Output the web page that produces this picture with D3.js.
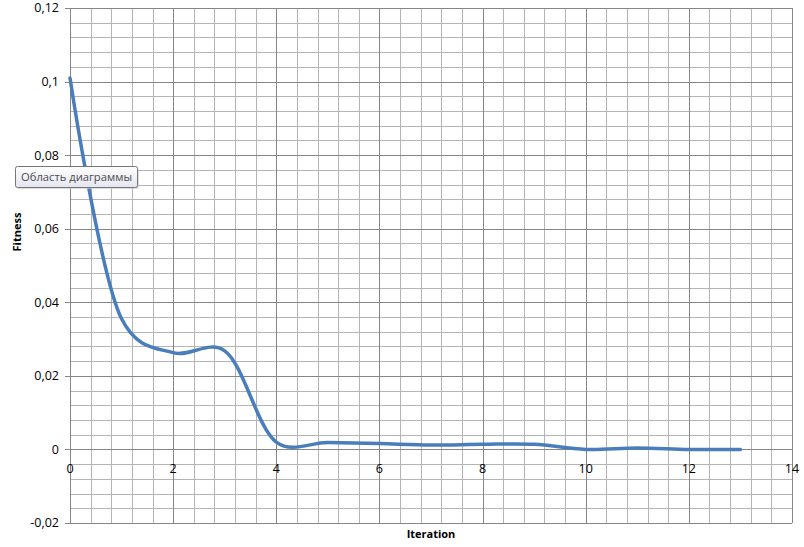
<!DOCTYPE html>
<html>
<head>
<meta charset="utf-8">
<script src="https://cdn.jsdelivr.net/npm/d3@7"></script>
<style>
  body { margin: 0; background: #fff; }
  text { font-family: "Open Sans", "DejaVu Sans", sans-serif; }
</style>
</head>
<body>
<div id="chart"></div>
<script>
// data
var iterations = [0, 1, 2, 3, 4, 5, 6, 7, 8, 9, 10, 11, 12, 13];
var fitness = [0.101, 0.0355, 0.0263, 0.0268, 0.002, 0.0019, 0.0016, 0.0012, 0.0014, 0.0014, 0.0, 0.0004, 0.0, 0.0];
var xTicks = [0, 2, 4, 6, 8, 10, 12, 14];
var yTicks = [-0.02, 0, 0.02, 0.04, 0.06, 0.08, 0.1, 0.12];
var tipText = "Область диаграммы";

var W = 804, H = 547;
var margin = {top: 8, right: 12, bottom: 24, left: 70},
    width = W - margin.left - margin.right,
    height = H - margin.top - margin.bottom;

var svg = d3.select("#chart")
  .append("svg")
    .attr("width", W)
    .attr("height", H);

var g = svg.append("g")
    .attr("transform", "translate(" + margin.left + "," + margin.top + ")");

var x = d3.scaleLinear().domain([0, 14]).range([0, width]);
var y = d3.scaleLinear().domain([-0.02, 0.12]).range([height, 0]);

// minor grid
var xMinor = d3.range(0, 14.0001, 0.4);
var yMinor = d3.range(-0.02, 0.12001, 0.004);
g.append("g").selectAll("line")
  .data(xMinor).enter().append("line")
    .attr("x1", function(d) { return Math.round(x(d)) + 0.5; })
    .attr("x2", function(d) { return Math.round(x(d)) + 0.5; })
    .attr("y1", 0).attr("y2", height)
    .attr("stroke", "#b4b4b4");
g.append("g").selectAll("line")
  .data(yMinor).enter().append("line")
    .attr("y1", function(d) { return Math.round(y(d)) + 0.5; })
    .attr("y2", function(d) { return Math.round(y(d)) + 0.5; })
    .attr("x1", 0).attr("x2", width)
    .attr("stroke", "#b4b4b4");

// major grid
g.append("g").selectAll("line")
  .data(xTicks).enter().append("line")
    .attr("x1", function(d) { return Math.round(x(d)) + 0.5; })
    .attr("x2", function(d) { return Math.round(x(d)) + 0.5; })
    .attr("y1", 0).attr("y2", height)
    .attr("stroke", "#868686");
g.append("g").selectAll("line")
  .data(yTicks).enter().append("line")
    .attr("y1", function(d) { return Math.round(y(d)) + 0.5; })
    .attr("y2", function(d) { return Math.round(y(d)) + 0.5; })
    .attr("x1", -5).attr("x2", width)
    .attr("stroke", "#868686");

// y tick labels
var fmt = function(d) {
  return d3.format("~g")(+d.toFixed(3)).replace(".", ",").replace("\u2212", "-");
};
g.append("g").selectAll("text")
  .data(yTicks).enter().append("text")
    .attr("x", -11)
    .attr("y", function(d) { return y(d); })
    .attr("dy", "0.35em")
    .attr("text-anchor", "end")
    .attr("font-size", 12.5)
    .attr("fill", "#000")
    .text(fmt);

// x tick labels sit under the zero line
g.append("g").selectAll("text")
  .data(xTicks).enter().append("text")
    .attr("x", function(d) { return x(d); })
    .attr("y", y(0) + 24)
    .attr("text-anchor", "middle")
    .attr("font-size", 12.5)
    .attr("fill", "#000")
    .text(function(d) { return d; });

// axis titles
svg.append("text")
  .attr("transform", "translate(21," + 232 + ") rotate(-90)")
  .attr("text-anchor", "middle")
  .attr("font-size", 11)
  .attr("font-weight", "bold")
  .text("Fitness");
svg.append("text")
  .attr("x", 431)
  .attr("y", 538)
  .attr("text-anchor", "middle")
  .attr("font-size", 11)
  .attr("font-weight", "bold")
  .text("Iteration");

// the line
var pts = iterations.map(function(d, i) { return [d, fitness[i]]; });
var line = d3.line()
  .x(function(d) { return x(d[0]); })
  .y(function(d) { return y(d[1]); })
  .curve(d3.curveCatmullRom.alpha(0.25));
g.append("path")
  .datum(pts)
  .attr("fill", "none")
  .attr("stroke", "#4a7ebb")
  .attr("stroke-width", 3.5)
  .attr("stroke-linecap", "round")
  .attr("d", line);

// tooltip box
var defs = svg.append("defs");
var grad = defs.append("linearGradient").attr("id", "tipg")
  .attr("x1", 0).attr("y1", 0).attr("x2", 0).attr("y2", 1);
grad.append("stop").attr("offset", "0%").attr("stop-color", "#ffffff");
grad.append("stop").attr("offset", "100%").attr("stop-color", "#e4e5f0");
var tip = svg.append("g").attr("transform", "translate(15,166)");
tip.append("rect")
  .attr("x", 2).attr("y", 2).attr("width", 122).attr("height", 21)
  .attr("rx", 2).attr("fill", "#c8c8c8").attr("opacity", 0.6);
tip.append("rect")
  .attr("x", 0.5).attr("y", 0.5).attr("width", 122).attr("height", 21)
  .attr("rx", 2)
  .attr("fill", "url(#tipg)")
  .attr("stroke", "#767676");
tip.append("text")
  .attr("x", 6).attr("y", 15)
  .attr("font-size", 11.5)
  .attr("textLength", 111)
  .attr("lengthAdjust", "spacingAndGlyphs")
  .attr("fill", "#4c4c4c")
  .text(tipText);
</script>
</body>
</html>
